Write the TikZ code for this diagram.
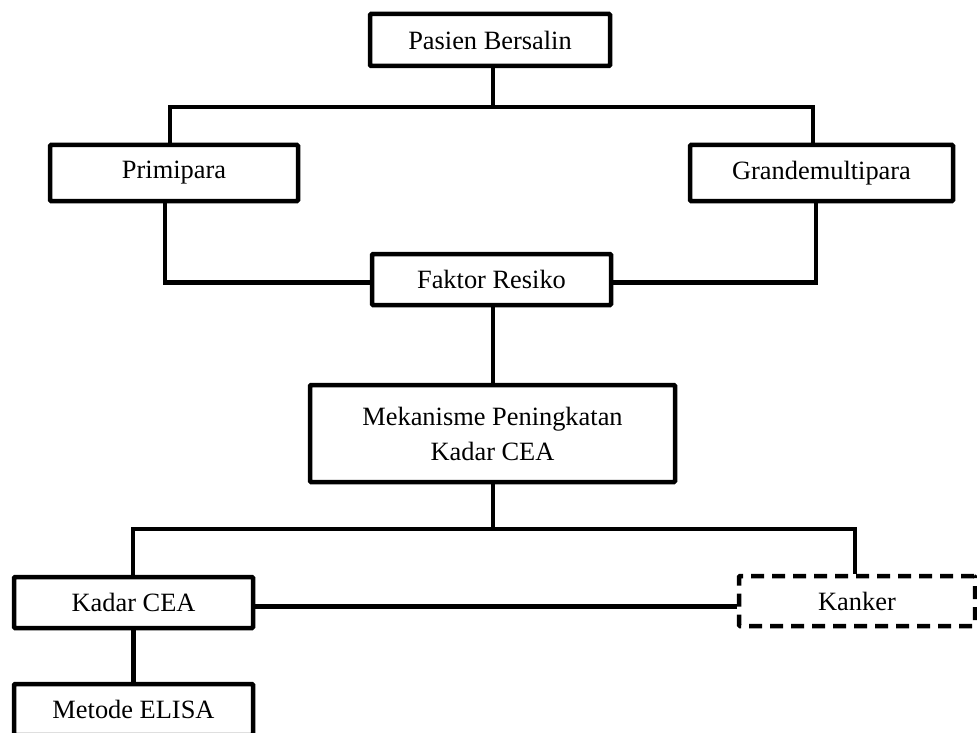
\documentclass[tikz,border=0pt]{standalone}
\usepackage{fontspec}
\setmainfont{Liberation Serif}
\tikzset{
  box/.style={draw, line width=4.5pt, rounded corners=1pt, inner sep=0pt, fill=white,
    font=\fontsize{26.4}{35}\selectfont, align=center},
  dbox/.style={box, dash pattern=on 13pt off 8pt, line cap=butt},
  conn/.style={line width=4.5pt}
}
\begin{document}
\begin{tikzpicture}[x=1pt,y=-1pt]
\useasboundingbox (0,0) rectangle (977,733);
\clip (0,0) rectangle (977,733);
\coordinate (pj) at (493,107);
\coordinate (mj) at (493,529);
\node[box, minimum width=240pt, minimum height=52pt] (pas) at (490,40) {Pasien Bersalin};
\node[box, minimum width=248pt, minimum height=56pt] (prim) at (174,173) {Primipara};
\node[box, minimum width=263pt, minimum height=56pt] (gm) at (821.5,173) {Grandemultipara};
\node[box, minimum width=239pt, minimum height=51pt] (fak) at (491.5,279.5) {Faktor Resiko};
\node[box, minimum width=365pt, minimum height=97pt] (mek) at (492.5,433.5) {Mekanisme Peningkatan\\Kadar CEA};
\node[box, minimum width=239pt, minimum height=51pt] (kad) at (133.5,602.5) {Kadar CEA};
\node[dbox, minimum width=236pt, minimum height=50pt] (kan) at (857,601) {Kanker};
\node[box, minimum width=239pt, minimum height=51pt] (met) at (133.5,709.5) {Metode ELISA};
\draw[conn] (pas.south -| pj) -- (pj);
\draw[conn] ([xshift=-4pt]prim.north) |- (pj) -| ([xshift=-8.5pt]gm.north);
\draw[conn] ([xshift=-9pt]prim.south) |- ([yshift=-3pt]fak.west);
\draw[conn] ([xshift=-5.5pt]gm.south) |- ([yshift=-3pt]fak.east);
\draw[conn] (fak.south -| pj) -- (mek.north -| pj);
\draw[conn] (mek.south -| mj) -- (mj);
\draw[conn] (kad.north -| 133,0) |- (mj) -| ([xshift=-2pt]kan.north);
\draw[conn] ([yshift=-4pt]kad.east) -- ([yshift=-4pt]kad.east -| kan.west);
\draw[conn] (kad.south) -- (met.north);
\end{tikzpicture}
\end{document}
